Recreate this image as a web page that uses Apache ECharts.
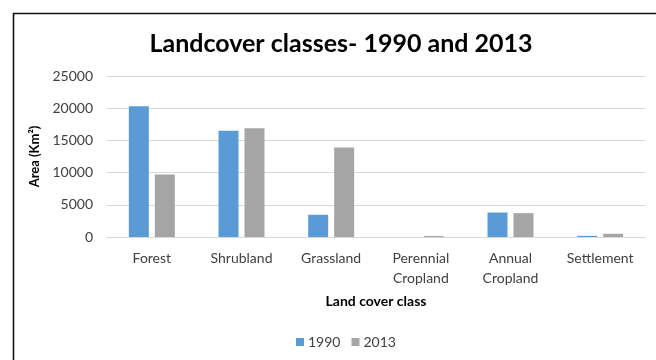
<!DOCTYPE html>
<html>
<head>
<meta charset="utf-8">
<script src="https://cdn.jsdelivr.net/npm/echarts@6/dist/echarts.min.js"></script>
<style>
html,body{margin:0;padding:0;background:#fff;}
#c{width:656px;height:360px;}
</style>
</head>
<body>
<div id="c"></div>
<script>
const categories = ['Forest', 'Shrubland', 'Grassland', 'Perennial\nCropland', 'Annual\nCropland', 'Settlement'];
const values1990 = [20300, 16500, 3450, 0, 3800, 180];
const values2013 = [9700, 16900, 13900, 160, 3700, 500];
const yTicks = [0, 5000, 10000, 15000, 20000, 25000];

const FONT = 'Lato, "Open Sans", sans-serif';
const chart = echarts.init(document.getElementById('c'), null, {renderer: 'canvas'});
chart.setOption({
  animation: false,
  backgroundColor: '#fff',
  title: {
    text: 'Landcover classes- 1990 and 2013',
    left: 336, top: 26, textAlign: 'center',
    textStyle: {fontFamily: FONT, fontSize: 25, fontWeight: 'bold', color: '#000'}
  },
  graphic: [{
    type: 'rect', left: 11, top: 11, silent: true,
    shape: {width: 700, height: 400},
    style: {fill: 'none', stroke: '#111', lineWidth: 1.6}
  }],
  legend: {
    data: ['1990', '2013'],
    left: 291, top: 330,
    icon: 'rect', itemWidth: 8, itemHeight: 8, itemGap: 11, itemStyle: {borderWidth: 0},
    textStyle: {fontFamily: FONT, fontSize: 14, color: '#404040', padding: [0, 0, 0, -1]}
  },
  grid: {left: 107, right: 11, top: 76, bottom: 123, containLabel: false},
  xAxis: {
    type: 'category', data: categories,
    name: 'Land cover class', nameLocation: 'middle', nameGap: 57,
    nameTextStyle: {fontFamily: FONT, fontSize: 14, fontWeight: 'bold', color: '#000'},
    axisLine: {lineStyle: {color: '#d9d9d9', width: 1}},
    axisTick: {show: false},
    axisLabel: {fontFamily: FONT, fontSize: 14, color: '#404040', margin: 11, lineHeight: 20, interval: 0}
  },
  yAxis: {
    type: 'value', min: 0, max: 25000, interval: 5000,
    name: 'Area (Km²)', nameLocation: 'middle', nameGap: 55, nameRotate: 90,
    nameTextStyle: {fontFamily: FONT, fontSize: 13, fontWeight: 'bold', color: '#000'},
    axisLine: {show: false}, axisTick: {show: false},
    splitLine: {lineStyle: {color: '#d9d9d9', width: 1}},
    axisLabel: {fontFamily: FONT, fontSize: 14, color: '#404040', margin: 14,
      formatter: v => yTicks.includes(v) ? String(v) : ''}
  },
  series: [
    {name: '1990', type: 'bar', data: values1990, barWidth: 20, barGap: '30%',
     itemStyle: {color: '#5B9BD5'}},
    {name: '2013', type: 'bar', data: values2013, barWidth: 20,
     itemStyle: {color: '#A5A5A5'}}
  ]
});
</script>
</body>
</html>
